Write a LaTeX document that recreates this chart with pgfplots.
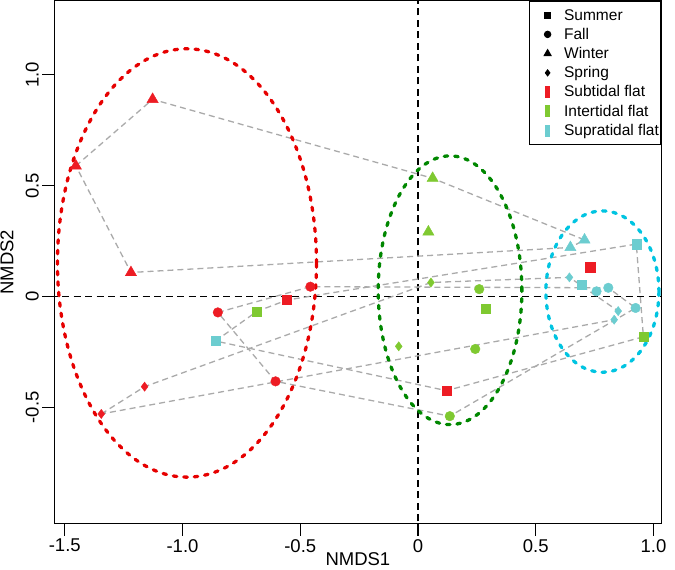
\documentclass[border=0pt]{standalone}
\usepackage{fontspec}
\setmainfont{Liberation Sans}
\usepackage{pgfplots}
\pgfplotsset{compat=1.18}
\definecolor{redpt}{RGB}{237,28,36}
\definecolor{greenpt}{RGB}{127,201,49}
\definecolor{cyanpt}{RGB}{108,205,208}
\definecolor{redell}{RGB}{230,0,0}
\definecolor{greenell}{RGB}{0,135,0}
\definecolor{cyanell}{RGB}{0,196,225}
\definecolor{hull}{RGB}{170,170,170}
\begin{document}
\begin{tikzpicture}
\begin{axis}[
    scale only axis, width=607pt, height=523pt,
    xmin=-1.544, xmax=1.0335, ymin=-1.025, ymax=1.334,
    axis line style={line width=1.3pt},
    xtick={-1.5,-1,-0.5,0,0.5,1}, xticklabels={-1.5,-1.0,-0.5,0,0.5,1.0},
    ytick={-0.5,0,0.5,1}, yticklabels={-0.5,0,0.5,1.0},
    xtick pos=bottom, ytick pos=left,
    tick align=outside, major tick length=12pt,
    tick style={line width=1.3pt, black},
    ticklabel style={font=\fontsize{18.5}{20}\selectfont},
    yticklabel style={rotate=90, anchor=south, yshift=0pt},
    xlabel={NMDS1}, ylabel={NMDS2},
    label style={font=\fontsize{18.5}{20}\selectfont},
    xlabel style={at={(axis description cs:0.5,-0.067)}, anchor=center},
    ylabel style={at={(axis description cs:-0.078,0.5)}, anchor=center},
    legend style={at={(1,1)}, anchor=north east, draw=black, line width=1pt,
        fill=white, font=\fontsize{15.5}{15.5}\selectfont, row sep=2.5pt,
        column sep=0pt, inner xsep=0pt, inner ysep=6pt},
    legend cell align=left,
]
% zero lines
\addplot[black, line width=1.4pt, dash pattern=on 7pt off 4.5pt, forget plot] coordinates {(0,-2) (0,2)};
\addplot[black, line width=1.4pt, dash pattern=on 7pt off 4.5pt, forget plot] coordinates {(-2,0) (2,0)};

% season hulls
\pgfplotsset{hullstyle/.style={hull, line width=1.3pt, dash pattern=on 6pt off 4pt, forget plot}}
\addplot[hullstyle] coordinates {(-1.453,0.589) (-1.127,0.889) (0.062,0.533) (0.707,0.255) (0.647,0.221) (-1.219,0.108) (-1.453,0.589)};
\addplot[hullstyle] coordinates {(-0.850,-0.072) (-0.457,0.044) (0.808,0.039) (0.924,-0.052) (0.135,-0.540) (-0.605,-0.383) (-0.850,-0.072)};
\addplot[hullstyle] coordinates {(-0.860,-0.201) (-0.685,-0.068) (-0.556,-0.016) (0.927,0.236) (0.957,-0.182) (0.121,-0.425) (-0.860,-0.201)};
\addplot[hullstyle] coordinates {(-1.345,-0.530) (-1.161,-0.407) (0.055,0.063) (0.643,0.086) (0.850,-0.066) (0.833,-0.105) (-1.345,-0.530)};

% points
\pgfplotsset{
  sq/.style={only marks, mark=square*, mark size=4.6pt, forget plot},
  ci/.style={only marks, mark=*, mark size=4.8pt, forget plot},
  tr/.style={only marks, mark=triangle*, mark size=6.5pt, forget plot},
  di/.style={only marks, mark=diamond*, mark size=4.6pt, forget plot},
}
% subtidal
\addplot[tr, redpt] coordinates {(-1.127,0.889) (-1.453,0.589) (-1.219,0.108)};
\addplot[ci, redpt] coordinates {(-0.457,0.044) (-0.850,-0.072) (-0.605,-0.383)};
\addplot[sq, redpt] coordinates {(-0.556,-0.016) (0.121,-0.425) (0.731,0.132)};
\addplot[di, redpt] coordinates {(-1.161,-0.407) (-1.345,-0.530)};
% intertidal
\addplot[tr, greenpt] coordinates {(0.062,0.533) (0.044,0.291)};
\addplot[ci, greenpt] coordinates {(0.260,0.033) (0.243,-0.237) (0.135,-0.540)};
\addplot[sq, greenpt] coordinates {(-0.685,-0.068) (0.288,-0.057) (0.957,-0.182)};
\addplot[di, greenpt] coordinates {(0.055,0.063) (-0.082,-0.225)};
% supratidal
\addplot[tr, cyanpt] coordinates {(0.707,0.255) (0.647,0.221)};
\addplot[ci, cyanpt] coordinates {(0.808,0.039) (0.758,0.023) (0.924,-0.052)};
\addplot[sq, cyanpt] coordinates {(-0.860,-0.201) (0.695,0.053) (0.927,0.236)};
\addplot[di, cyanpt] coordinates {(0.643,0.086) (0.850,-0.066) (0.833,-0.105)};

% habitat ellipses
\draw[redell, line width=3.3pt, line cap=round, dash pattern=on 3.5pt off 7pt] (axis cs:-0.981,0.151) ellipse [x radius=0.550, y radius=0.966];
\draw[greenell, line width=3.3pt, line cap=round, dash pattern=on 3.5pt off 7pt] (axis cs:0.136,0.028) ellipse [x radius=0.305, y radius=0.606];
\draw[cyanell, line width=3.3pt, line cap=round, dash pattern=on 3.5pt off 7pt] (axis cs:0.783,0.022) ellipse [x radius=0.240, y radius=0.364];

% legend
\pgfplotsset{
  legmark/.style={legend image code/.code={\path[draw=none] (0pt,-7pt) rectangle (33pt,7pt); \draw[##1] plot coordinates {(18.5pt,0pt)};}},
  legbox/.style={legend image code/.code={\path[draw=none] (0pt,-7pt) rectangle (33pt,7pt); \fill[#1, draw=none] (16pt,-6pt) rectangle (21pt,6pt);}},
}
\addlegendimage{legmark, only marks, mark=square*, mark size=3pt, black}
\addlegendentry{Summer}
\addlegendimage{legmark, only marks, mark=*, mark size=3.2pt, black}
\addlegendentry{Fall}
\addlegendimage{legmark, only marks, mark=triangle*, mark size=4pt, black}
\addlegendentry{Winter}
\addlegendimage{legmark, only marks, mark=diamond*, mark size=3pt, black}
\addlegendentry{Spring}
\addlegendimage{legbox=redpt}
\addlegendentry{Subtidal flat}
\addlegendimage{legbox=greenpt}
\addlegendentry{Intertidal flat}
\addlegendimage{legbox=cyanpt}
\addlegendentry{Supratidal flat}
\end{axis}
\pgfresetboundingbox
\path[use as bounding box] ([shift={(-54.4pt,-46pt)}]current axis.south west) rectangle ([shift={(13.6pt,0.7pt)}]current axis.north east);
\end{tikzpicture}
\end{document}
